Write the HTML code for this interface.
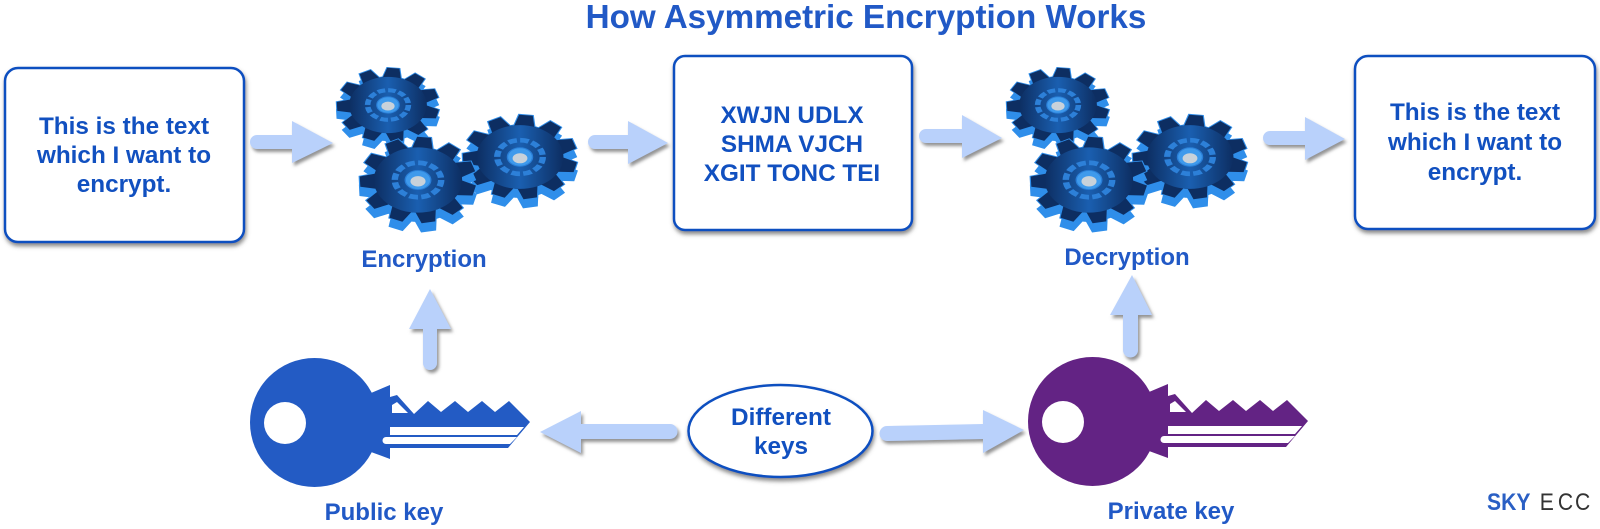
<!DOCTYPE html>
<html><head><meta charset="utf-8"><style>
html,body{margin:0;padding:0;background:#fff}
svg{display:block}
text{font-family:"Liberation Sans",sans-serif;font-weight:bold;text-anchor:middle}
.t{font-size:24.3px;fill:#1150c0}
.l{font-size:24px;fill:#2159c6}
.a{fill:#b9d1fb;filter:url(#sh)}
.b{fill:#fff;stroke:#1150c0;stroke-width:2.5;filter:url(#sb)}
</style></head><body>
<svg width="1600" height="529" viewBox="0 0 1600 529" xmlns="http://www.w3.org/2000/svg">
<defs>
<filter id="sh" x="-30%" y="-30%" width="170%" height="170%"><feDropShadow dx="2" dy="3" stdDeviation="1.6" flood-color="#777" flood-opacity=".8"/></filter>
<filter id="sb" x="-5%" y="-5%" width="110%" height="115%"><feDropShadow dx="1" dy="3" stdDeviation="2" flood-color="#555" flood-opacity=".7"/></filter>
<linearGradient id="gb" x1="0" x2="1" y1="0" y2="0"><stop offset="0" stop-color="#0d2e62"/><stop offset=".5" stop-color="#1a5fb0"/><stop offset="1" stop-color="#0d2e62"/></linearGradient>
<polygon id="tooth" points="-9,-36 -6,-50 6,-50 9,-36"/>
<g id="gs" transform="rotate(6)">
<circle r="38"/>
<use href="#tooth"/>
<use href="#tooth" transform="rotate(32.73)"/>
<use href="#tooth" transform="rotate(65.45)"/>
<use href="#tooth" transform="rotate(98.18)"/>
<use href="#tooth" transform="rotate(130.9)"/>
<use href="#tooth" transform="rotate(163.64)"/>
<use href="#tooth" transform="rotate(196.36)"/>
<use href="#tooth" transform="rotate(229.09)"/>
<use href="#tooth" transform="rotate(261.82)"/>
<use href="#tooth" transform="rotate(294.55)"/>
<use href="#tooth" transform="rotate(327.27)"/>
</g>
<g id="gear">
<g transform="translate(0,10)"><use href="#gs" fill="#2f8eea" stroke="#2f8eea" stroke-width="1.5"/></g>
<use href="#gs" fill="#2f8eea" stroke="#2f8eea" stroke-width="2"/>
<use href="#gs" fill="#0d2e62"/>
<circle r="38" fill="url(#gb)"/>
<circle r="20" fill="none" stroke="#2d80d8" stroke-width="5.5" stroke-dasharray="7.6 2.87"/>
<circle r="11" fill="#3f9aec" stroke="#2a7fd8" stroke-width="1.2"/>
<ellipse cy="1.5" rx="6.5" ry="6" fill="#c9d2da"/>
</g>
<g id="key">
<circle cx="314.5" cy="422.5" r="64.5"/>
<path d="M371,393 L390,385 L390,397 L397,395 L414,414 L428,401 L441,412 L455,401 L468,412 L482,401 L495,412 L509,401 L530,422 L508,448 L390,448 L390,459 L371,452 Z"/>
<circle cx="285" cy="423" r="21" fill="#fff"/>
<polygon points="392,405 397,402 408,413 392,413" fill="#fff"/>
<polygon points="390,427 524,427 517,435 390,435" fill="#fff"/>
<path d="M386,437 H517 L510,444 H386 A3.5,3.5 0 0 1 386,437 Z" fill="#fff"/>
</g>
</defs>

<text x="866" y="28" style="font-size:33.2px;fill:#2159c6">How Asymmetric Encryption Works</text>

<rect class="b" x="5" y="68" width="239" height="174" rx="13"/>
<text class="t" x="124" y="134">This is the text</text>
<text class="t" x="124" y="163">which I want to</text>
<text class="t" x="124" y="192">encrypt.</text>

<rect class="b" x="674" y="56" width="238" height="174" rx="11"/>
<text class="t" x="792" y="123">XWJN UDLX</text>
<text class="t" x="792" y="152">SHMA VJCH</text>
<text class="t" x="792" y="181">XGIT TONC TEI</text>

<rect class="b" x="1355" y="56" width="240" height="173" rx="13"/>
<text class="t" x="1475" y="120">This is the text</text>
<text class="t" x="1475" y="150">which I want to</text>
<text class="t" x="1475" y="180">encrypt.</text>

<!-- gears 1 -->
<g transform="translate(520,157) scale(1.14,.84)"><use href="#gear"/></g>
<g transform="translate(388,105) scale(1.02,.74)"><use href="#gear"/></g>
<g transform="translate(418,180) scale(1.16,.86)"><use href="#gear"/></g>
<!-- gears 2 -->
<g transform="translate(1190,157) scale(1.14,.84)"><use href="#gear"/></g>
<g transform="translate(1058,105) scale(1.02,.74)"><use href="#gear"/></g>
<g transform="translate(1089,180) scale(1.16,.86)"><use href="#gear"/></g>

<text class="l" x="424" y="267">Encryption</text>
<text class="l" x="1127" y="265">Decryption</text>

<!-- horizontal arrows -->
<path class="a" d="M257,135 H292 V121 L333,143 L292,163 V149 H257 A7,7 0 0 1 257,135 Z"/>
<path class="a" d="M595,135 H628 V121 L668,143 L628,164 V149 H595 A7,7 0 0 1 595,135 Z"/>
<path class="a" d="M926,129 H962 V115 L1002,138 L962,158 V143 H926 A7,7 0 0 1 926,129 Z"/>
<path class="a" d="M1270,131 H1305 V117 L1345,139 L1305,160 V145 H1270 A7,7 0 0 1 1270,131 Z"/>
<!-- up arrows -->
<path class="a" d="M430,289 L451,329 H437 V363 A7,7 0 0 1 423,363 V329 H409 Z"/>
<path class="a" d="M1132,275 L1152,315 H1138 V350 A7.5,7.5 0 0 1 1123,350 V315 H1110 Z"/>
<!-- left / right arrows -->
<path class="a" d="M540,432 L581,411 V424 H670 A7.5,7.5 0 0 1 670,439 H581 V453 Z"/>
<path class="a" d="M1024,430 L983,410 V424 L887,426 A7.5,7.5 0 0 0 887,441 L983,439 V453 Z"/>

<ellipse cx="780.5" cy="431" rx="92" ry="46" fill="#fff" stroke="#1150c0" stroke-width="2.5" style="filter:url(#sb)"/>
<text class="t" x="781" y="425">Different</text>
<text class="t" x="781" y="454">keys</text>

<use href="#key" fill="#235bc4"/>
<use href="#key" fill="#632384" transform="translate(778,-1)"/>

<text class="l" x="384" y="520">Public key</text>
<text class="l" x="1171" y="519">Private key</text>

<g transform="translate(1487,510) scale(.88,1)">
<text x="0" y="0" style="font-size:24px;text-anchor:start;fill:#2a5fc4">SKY</text>
<text x="60 80.5 100" y="0" style="font-size:24px;text-anchor:start;fill:#333;font-weight:normal">ECC</text>
</g>
</svg>
</body></html>
